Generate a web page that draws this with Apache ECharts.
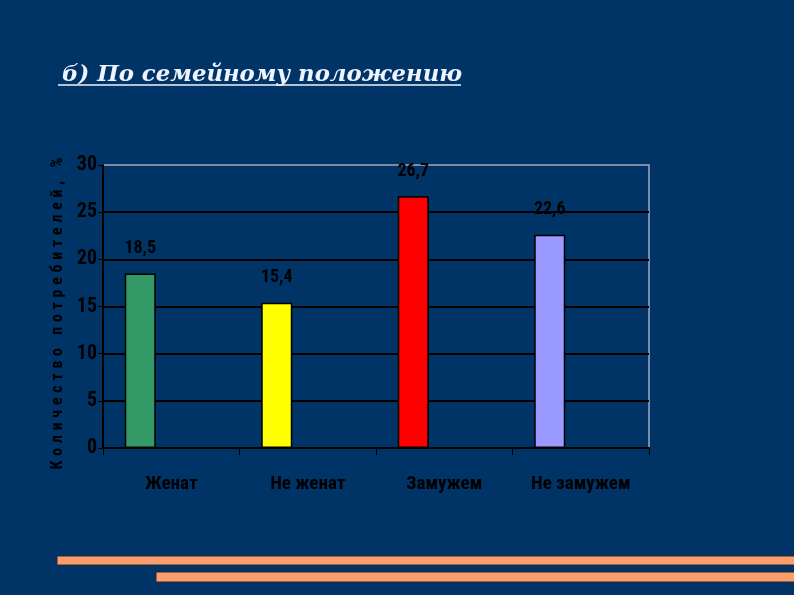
<!DOCTYPE html>
<html>
<head>
<meta charset="utf-8">
<script src="https://cdn.jsdelivr.net/npm/echarts@6/dist/echarts.min.js"></script>
<style>
  html, body { margin: 0; padding: 0; background: #003366; }
  #chart { width: 794px; height: 595px; }
</style>
</head>
<body>
<div id="chart"></div>
<script>
(function () {
  'use strict';

  const categories = ['Женат', 'Не женат', 'Замужем', 'Не замужем'];
  const values = [18.5, 15.4, 26.7, 22.6];
  const barColors = ['#339966', '#ffff00', '#ff0000', '#9999ff'];
  const yTicks = [0, 5, 10, 15, 20, 25, 30];
  const titleText = 'б) По семейному положению';
  const yName = 'Количество потребителей, %';

  const narrow = '"Liberation Sans Narrow", "Arial Narrow", "Roboto Condensed", sans-serif';

  // spread the letters of the axis title the way the slide does
  const spaced = (s) => s.split('').join('\u2004');

  const chart = echarts.init(document.getElementById('chart'), null, { renderer: 'canvas' });

  const emptySeries = categories.map(() => null);

  chart.setOption({
    backgroundColor: '#003366',
    animation: false,
    title: {
      text: titleText,
      left: 57,
      top: 59,
      textStyle: {
        color: '#eef4ff',
        fontFamily: '"DejaVu Serif", serif',
        fontStyle: 'italic',
        fontWeight: 'bold',
        fontSize: 22.8,
      },
    },
    graphic: [
      {
        type: 'line',
        shape: { x1: 58, y1: 85, x2: 461, y2: 85 },
        style: { stroke: '#eef4ff', lineWidth: 1.5 },
      },
      {
        type: 'rect',
        shape: { x: 57, y: 556, width: 740, height: 9 },
        style: { fill: '#fa9e6e', stroke: '#2a2a2a', lineWidth: 1 },
      },
      {
        type: 'rect',
        shape: { x: 156, y: 572, width: 640, height: 10 },
        style: { fill: '#fa9e6e', stroke: '#2a2a2a', lineWidth: 1 },
      },
    ],
    grid: {
      left: 103,
      right: 145,
      top: 165,
      bottom: 147,
      show: true,
      borderColor: '#a8a8b8',
      borderWidth: 1.5,
      backgroundColor: 'transparent',
    },
    xAxis: {
      type: 'category',
      data: categories,
      axisLine: { lineStyle: { color: '#000000', width: 2 } },
      axisTick: { show: true, length: 7, lineStyle: { color: '#000000', width: 1 } },
      axisLabel: {
        color: '#000000',
        fontFamily: narrow,
        fontWeight: 'bold',
        fontSize: 19,
        margin: 27,
      },
    },
    yAxis: {
      type: 'value',
      min: yTicks[0],
      max: yTicks[yTicks.length - 1],
      interval: 5,
      name: spaced(yName),
      nameLocation: 'middle',
      nameRotate: 90,
      nameGap: 32,
      nameTextStyle: {
        color: '#000000',
        fontFamily: narrow,
        fontWeight: 'bold',
        fontSize: 15.8,
        padding: [0, 14, 0, 0],
      },
      axisLine: { show: true, lineStyle: { color: '#000000', width: 2 } },
      axisTick: { show: true, length: 5, lineStyle: { color: '#000000' } },
      axisLabel: {
        color: '#000000',
        fontFamily: narrow,
        fontWeight: 'bold',
        fontSize: 20,
        margin: 6,
      },
      splitLine: {
        show: true,
        showMaxLine: false,
        lineStyle: { color: '#000000', width: 2 },
      },
    },
    series: [
      {
        name: 'Доля',
        type: 'bar',
        barWidth: 31,
        barGap: '0%',
        data: values.map((v, i) => ({
          value: v,
          itemStyle: { color: barColors[i] },
        })),
        itemStyle: { borderColor: '#000000', borderWidth: 1.5 },
        label: {
          show: true,
          position: 'top',
          distance: 16,
          color: '#000000',
          fontFamily: narrow,
          fontWeight: 'bold',
          fontSize: 18,
          formatter: (p) => String(p.value).replace('.', ','),
        },
      },
      { type: 'bar', barWidth: 31, barGap: '0%', data: emptySeries, silent: true },
      { type: 'bar', barWidth: 31, barGap: '0%', data: emptySeries, silent: true },
    ],
  });
})();
</script>
</body>
</html>
